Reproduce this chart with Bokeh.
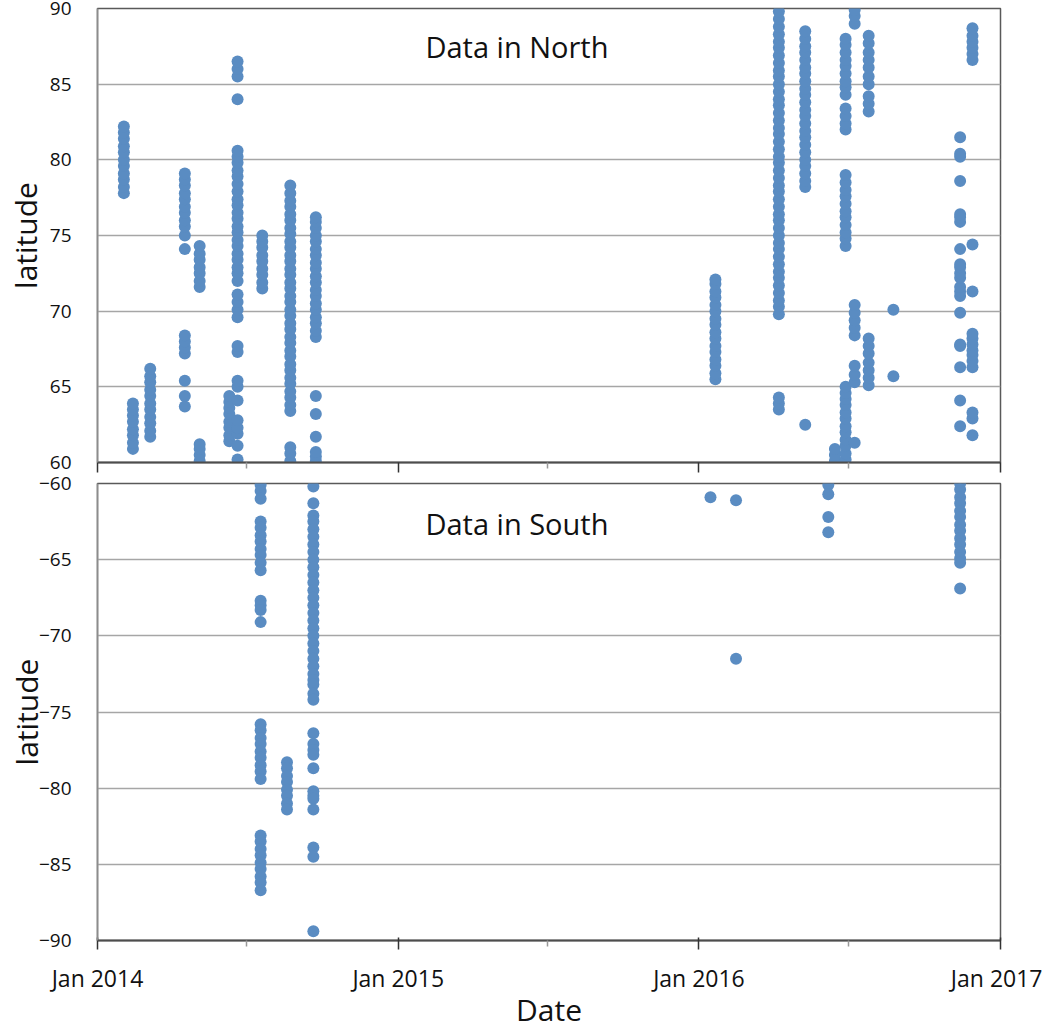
import pandas as pd
from bokeh.plotting import figure
from bokeh.models import (Range1d, FixedTicker, DatetimeTickFormatter, Label,
                          ColumnDataSource)
from bokeh.layouts import column
from bokeh.embed import file_html
from bokeh.resources import INLINE

# ---------------- data ----------------
north_dates = ["2014-02-02", "2014-02-13", "2014-03-06", "2014-04-17", "2014-05-05",
               "2014-06-10", "2014-06-20", "2014-07-20", "2014-08-23", "2014-09-23",
               "2016-01-21", "2016-04-07", "2016-05-09", "2016-06-14", "2016-06-27",
               "2016-07-08", "2016-07-25", "2016-08-24", "2016-11-13", "2016-11-28"]
north_lats = [
    [77.8, 78.2, 78.7, 79.1, 79.6, 80.0, 80.5, 80.9, 81.4, 81.8, 82.2],
    [60.9, 61.3, 61.8, 62.2, 62.7, 63.1, 63.5, 63.9],
    [61.7, 62.1, 62.6, 63.0, 63.5, 63.9, 64.4, 64.8, 65.3, 65.7, 66.2],
    [63.7, 64.4, 65.4, 67.2, 67.6, 68.0, 68.4, 74.1, 75.0, 75.6, 76.0, 76.5, 76.9,
     77.4, 77.8, 78.3, 78.7, 79.1],
    [60.1, 60.5, 60.9, 61.2, 71.6, 72.0, 72.5, 72.9, 73.4, 73.8, 74.3],
    [61.4, 61.8, 62.3, 62.7, 63.2, 63.6, 64.0, 64.4],
    [60.2, 61.1, 61.9, 62.3, 62.8, 64.1, 65.0, 65.4, 67.3, 67.7, 69.6, 70.1, 70.6,
     71.1, 72.0, 72.5, 72.9, 73.4, 73.8, 74.3, 74.7, 75.2, 75.6, 76.1, 76.5, 77.0,
     77.4, 77.9, 78.4, 78.9, 79.3, 79.8, 80.2, 80.6, 84.0, 85.5, 86.0, 86.5],
    [71.5, 71.9, 72.4, 72.8, 73.3, 73.7, 74.2, 74.6, 75.0],
    [60.1, 60.6, 61.0, 63.4, 63.8, 64.3, 64.7, 65.2, 65.6, 66.1, 66.5, 67.0, 67.4,
     67.9, 68.3, 68.8, 69.2, 69.7, 70.1, 70.6, 71.0, 71.5, 71.9, 72.4, 72.8, 73.3,
     73.7, 74.2, 74.6, 75.1, 75.5, 76.0, 76.4, 76.9, 77.3, 77.8, 78.3],
    [60.1, 60.4, 60.7, 61.7, 63.2, 64.4, 68.3, 68.7, 69.2, 69.6, 70.1, 70.5, 71.0,
     71.4, 71.9, 72.3, 72.8, 73.2, 73.7, 74.1, 74.6, 75.0, 75.5, 75.9, 76.2],
    [65.5, 65.9, 66.4, 66.8, 67.3, 67.7, 68.2, 68.6, 69.1, 69.5, 70.0, 70.4, 70.9,
     71.3, 71.8, 72.1],
    [63.5, 63.9, 64.3, 69.8, 70.3, 70.7, 71.2, 71.7, 72.2, 72.6, 73.1, 73.6, 74.1,
     74.5, 75.0, 75.5, 76.0, 76.4, 76.9, 77.4, 77.9, 78.3, 78.8, 79.3, 79.8, 80.2,
     80.7, 81.2, 81.7, 82.1, 82.6, 83.1, 83.6, 84.0, 84.5, 85.0, 85.5, 85.9, 86.4,
     86.9, 87.4, 87.8, 88.3, 88.8, 89.3, 89.8],
    [62.5, 78.2, 78.6, 79.1, 79.6, 80.0, 80.5, 81.0, 81.5, 81.9, 82.4, 82.9, 83.3,
     83.8, 84.3, 84.7, 85.2, 85.7, 86.1, 86.6, 87.1, 87.5, 88.0, 88.5],
    [60.1, 60.5, 60.9],
    [60.2, 60.6, 61.1, 61.5, 62.0, 62.4, 62.9, 63.3, 63.8, 64.2, 64.6, 65.0, 74.3,
     74.8, 75.2, 75.7, 76.2, 76.6, 77.1, 77.6, 78.0, 78.5, 79.0, 82.0, 82.4, 82.9,
     83.4, 84.3, 84.8, 85.2, 85.7, 86.2, 86.6, 87.1, 87.6, 88.0],
    [61.3, 65.3, 65.8, 66.4, 68.4, 68.9, 69.4, 69.9, 70.4, 89.0, 89.5, 89.9],
    [65.1, 65.6, 66.1, 66.6, 67.2, 67.7, 68.2, 83.2, 83.7, 84.2, 85.0, 85.5, 86.1,
     86.6, 87.1, 87.7, 88.2],
    [65.7, 70.1],
    [62.4, 64.1, 66.3, 67.7, 67.8, 69.9, 71.0, 71.3, 71.6, 72.2, 72.5, 72.9, 73.1,
     74.1, 75.9, 76.2, 76.4, 78.6, 80.2, 80.4, 81.5],
    [61.8, 62.9, 63.3, 66.3, 66.7, 67.1, 67.4, 67.8, 68.2, 68.5, 71.3, 74.4, 86.6,
     87.0, 87.4, 87.8, 88.2, 88.7],
]

south_dates = ["2014-07-18", "2014-08-19", "2014-09-20", "2016-01-15", "2016-02-15",
               "2016-06-06", "2016-11-13"]
south_lats = [
    [-60.1, -60.5, -61.0, -62.5, -62.9, -63.4, -63.8, -64.3, -64.7, -65.2, -65.7,
     -67.7, -68.0, -68.3, -69.1, -75.8, -76.2, -76.7, -77.1, -77.6, -78.0, -78.5,
     -78.9, -79.4, -83.1, -83.5, -84.0, -84.4, -84.9, -85.3, -85.8, -86.2, -86.7],
    [-78.3, -78.7, -79.2, -79.6, -80.1, -80.5, -81.0, -81.4],
    [-60.2, -61.3, -62.1, -62.5, -63.0, -63.5, -64.0, -64.5, -65.0, -65.5, -66.0,
     -66.5, -67.0, -67.5, -68.0, -68.5, -69.0, -69.5, -70.0, -70.5, -71.0, -71.5,
     -72.0, -72.5, -72.9, -73.2, -73.8, -74.2, -76.4, -77.1, -77.5, -77.8, -78.7,
     -80.2, -80.5, -80.7, -81.4, -83.9, -84.5, -89.4],
    [-60.9],
    [-61.1, -71.5],
    [-60.1, -60.7, -62.2, -63.2],
    [-60.0, -60.4, -60.9, -61.3, -61.8, -62.2, -62.7, -63.1, -63.6, -64.0, -64.5,
     -64.9, -65.2, -66.9],
]

year_ticks = ["2014-01-01", "2015-01-01", "2016-01-01", "2017-01-01"]
half_year_ticks = ["2014-07-01", "2015-07-01", "2016-07-01"]
north_yticks = [60, 65, 70, 75, 80, 85, 90]
south_yticks = [-90, -85, -80, -75, -70, -65, -60]

# ---------------- helpers ----------------
def ms(s):
    return pd.Timestamp(s).value / 1e6

def flatten(dates, lats):
    xs, ys = [], []
    for d, vals in zip(dates, lats):
        for v in vals:
            xs.append(pd.Timestamp(d))
            ys.append(v)
    return ColumnDataSource(dict(x=xs, y=ys))

FONT = "Open Sans"
DOT = "#5A8CC2"
TXT = "#111111"
x_range = Range1d(ms(year_ticks[0]), ms(year_ticks[-1]))
fmt = DatetimeTickFormatter(years="%b %Y", months="%b %Y", days="%b %Y",
                            hours="%b %Y", minutes="%b %Y", seconds="%b %Y")


def make_fig(frame_h, yr, yticks, mbt, mbb):
    p = figure(frame_width=903, frame_height=frame_h, x_axis_type="datetime",
               x_range=x_range, y_range=Range1d(*yr), output_backend="svg",
               toolbar_location=None, min_border_left=97, min_border_right=42,
               min_border_top=mbt, min_border_bottom=mbb)
    p.background_fill_color = "white"
    p.border_fill_color = "white"
    p.outline_line_color = "#595959"
    p.outline_line_width = 1.5
    p.xgrid.visible = False
    p.ygrid.grid_line_color = "#a6a6a6"
    p.ygrid.grid_line_width = 1.5
    p.yaxis.ticker = FixedTicker(ticks=yticks)
    p.yaxis.major_tick_line_color = None
    p.yaxis.minor_tick_line_color = None
    p.yaxis.axis_line_color = "#8c8c8c"
    p.yaxis.axis_line_width = 1.5
    p.yaxis.major_label_text_font = FONT
    p.yaxis.major_label_text_font_size = "19px"
    p.yaxis.major_label_text_color = TXT
    p.yaxis.major_label_standoff = 20
    p.yaxis.axis_label = "latitude"
    p.yaxis.axis_label_text_font = FONT
    p.yaxis.axis_label_text_font_size = "30px"
    p.yaxis.axis_label_text_font_style = "normal"
    p.yaxis.axis_label_text_color = TXT
    p.yaxis.axis_label_text_line_height = 0.8
    p.xaxis.ticker = FixedTicker(ticks=[ms(t) for t in year_ticks],
                                 minor_ticks=[ms(t) for t in half_year_ticks])
    p.xaxis.formatter = fmt
    p.xaxis.axis_line_color = "#4d4d4d"
    p.xaxis.axis_line_width = 2
    p.xaxis.major_tick_line_color = "#333333"
    p.xaxis.major_tick_line_width = 1.5
    p.xaxis.minor_tick_line_color = "#999999"
    p.xaxis.minor_tick_line_width = 1.5
    p.xaxis.minor_tick_in = 0
    p.xaxis.minor_tick_out = 6
    return p


# ---- top panel (north) ----
top = make_fig(454, (60, 90), north_yticks, 8, 11)
top.xaxis.major_tick_in = 0
top.xaxis.major_tick_out = 10
top.xaxis.major_label_text_font_size = "11px"
top.xaxis.major_label_text_color = None
top.xaxis.major_label_standoff = -16
top.yaxis.axis_label_standoff = 1
top.scatter(x="x", y="y", source=flatten(north_dates, north_lats), size=12,
            fill_color=DOT, line_color=None)
top.add_layout(Label(x=ms("2015-02-03"), y=87.5, text="Data in North",
                     text_font=FONT, text_font_size="29px", text_baseline="middle",
                     text_color=TXT))

# ---- bottom panel (south) ----
bottom = make_fig(457, (-90, -60), south_yticks, 10, 83)
bottom.yaxis.axis_label_standoff = -11
bottom.xaxis.major_tick_in = 3
bottom.xaxis.major_tick_out = 9
bottom.xaxis.major_label_text_font = FONT
bottom.xaxis.major_label_text_font_size = "23px"
bottom.xaxis.major_label_text_color = TXT
bottom.xaxis.major_label_standoff = 12
bottom.xaxis.axis_label = "Date"
bottom.xaxis.axis_label_text_font = FONT
bottom.xaxis.axis_label_text_font_size = "30px"
bottom.xaxis.axis_label_text_font_style = "normal"
bottom.xaxis.axis_label_text_color = TXT
bottom.xaxis.axis_label_text_line_height = 0.8
bottom.xaxis.axis_label_standoff = -8
bottom.scatter(x="x", y="y", source=flatten(south_dates, south_lats), size=12,
               fill_color=DOT, line_color=None)
bottom.add_layout(Label(x=ms("2015-02-03"), y=-62.6, text="Data in South",
                        text_font=FONT, text_font_size="29px", text_baseline="middle",
                        text_color=TXT))

layout = column(top, bottom, spacing=0)
open("out.html", "w").write(file_html(layout, INLINE))
